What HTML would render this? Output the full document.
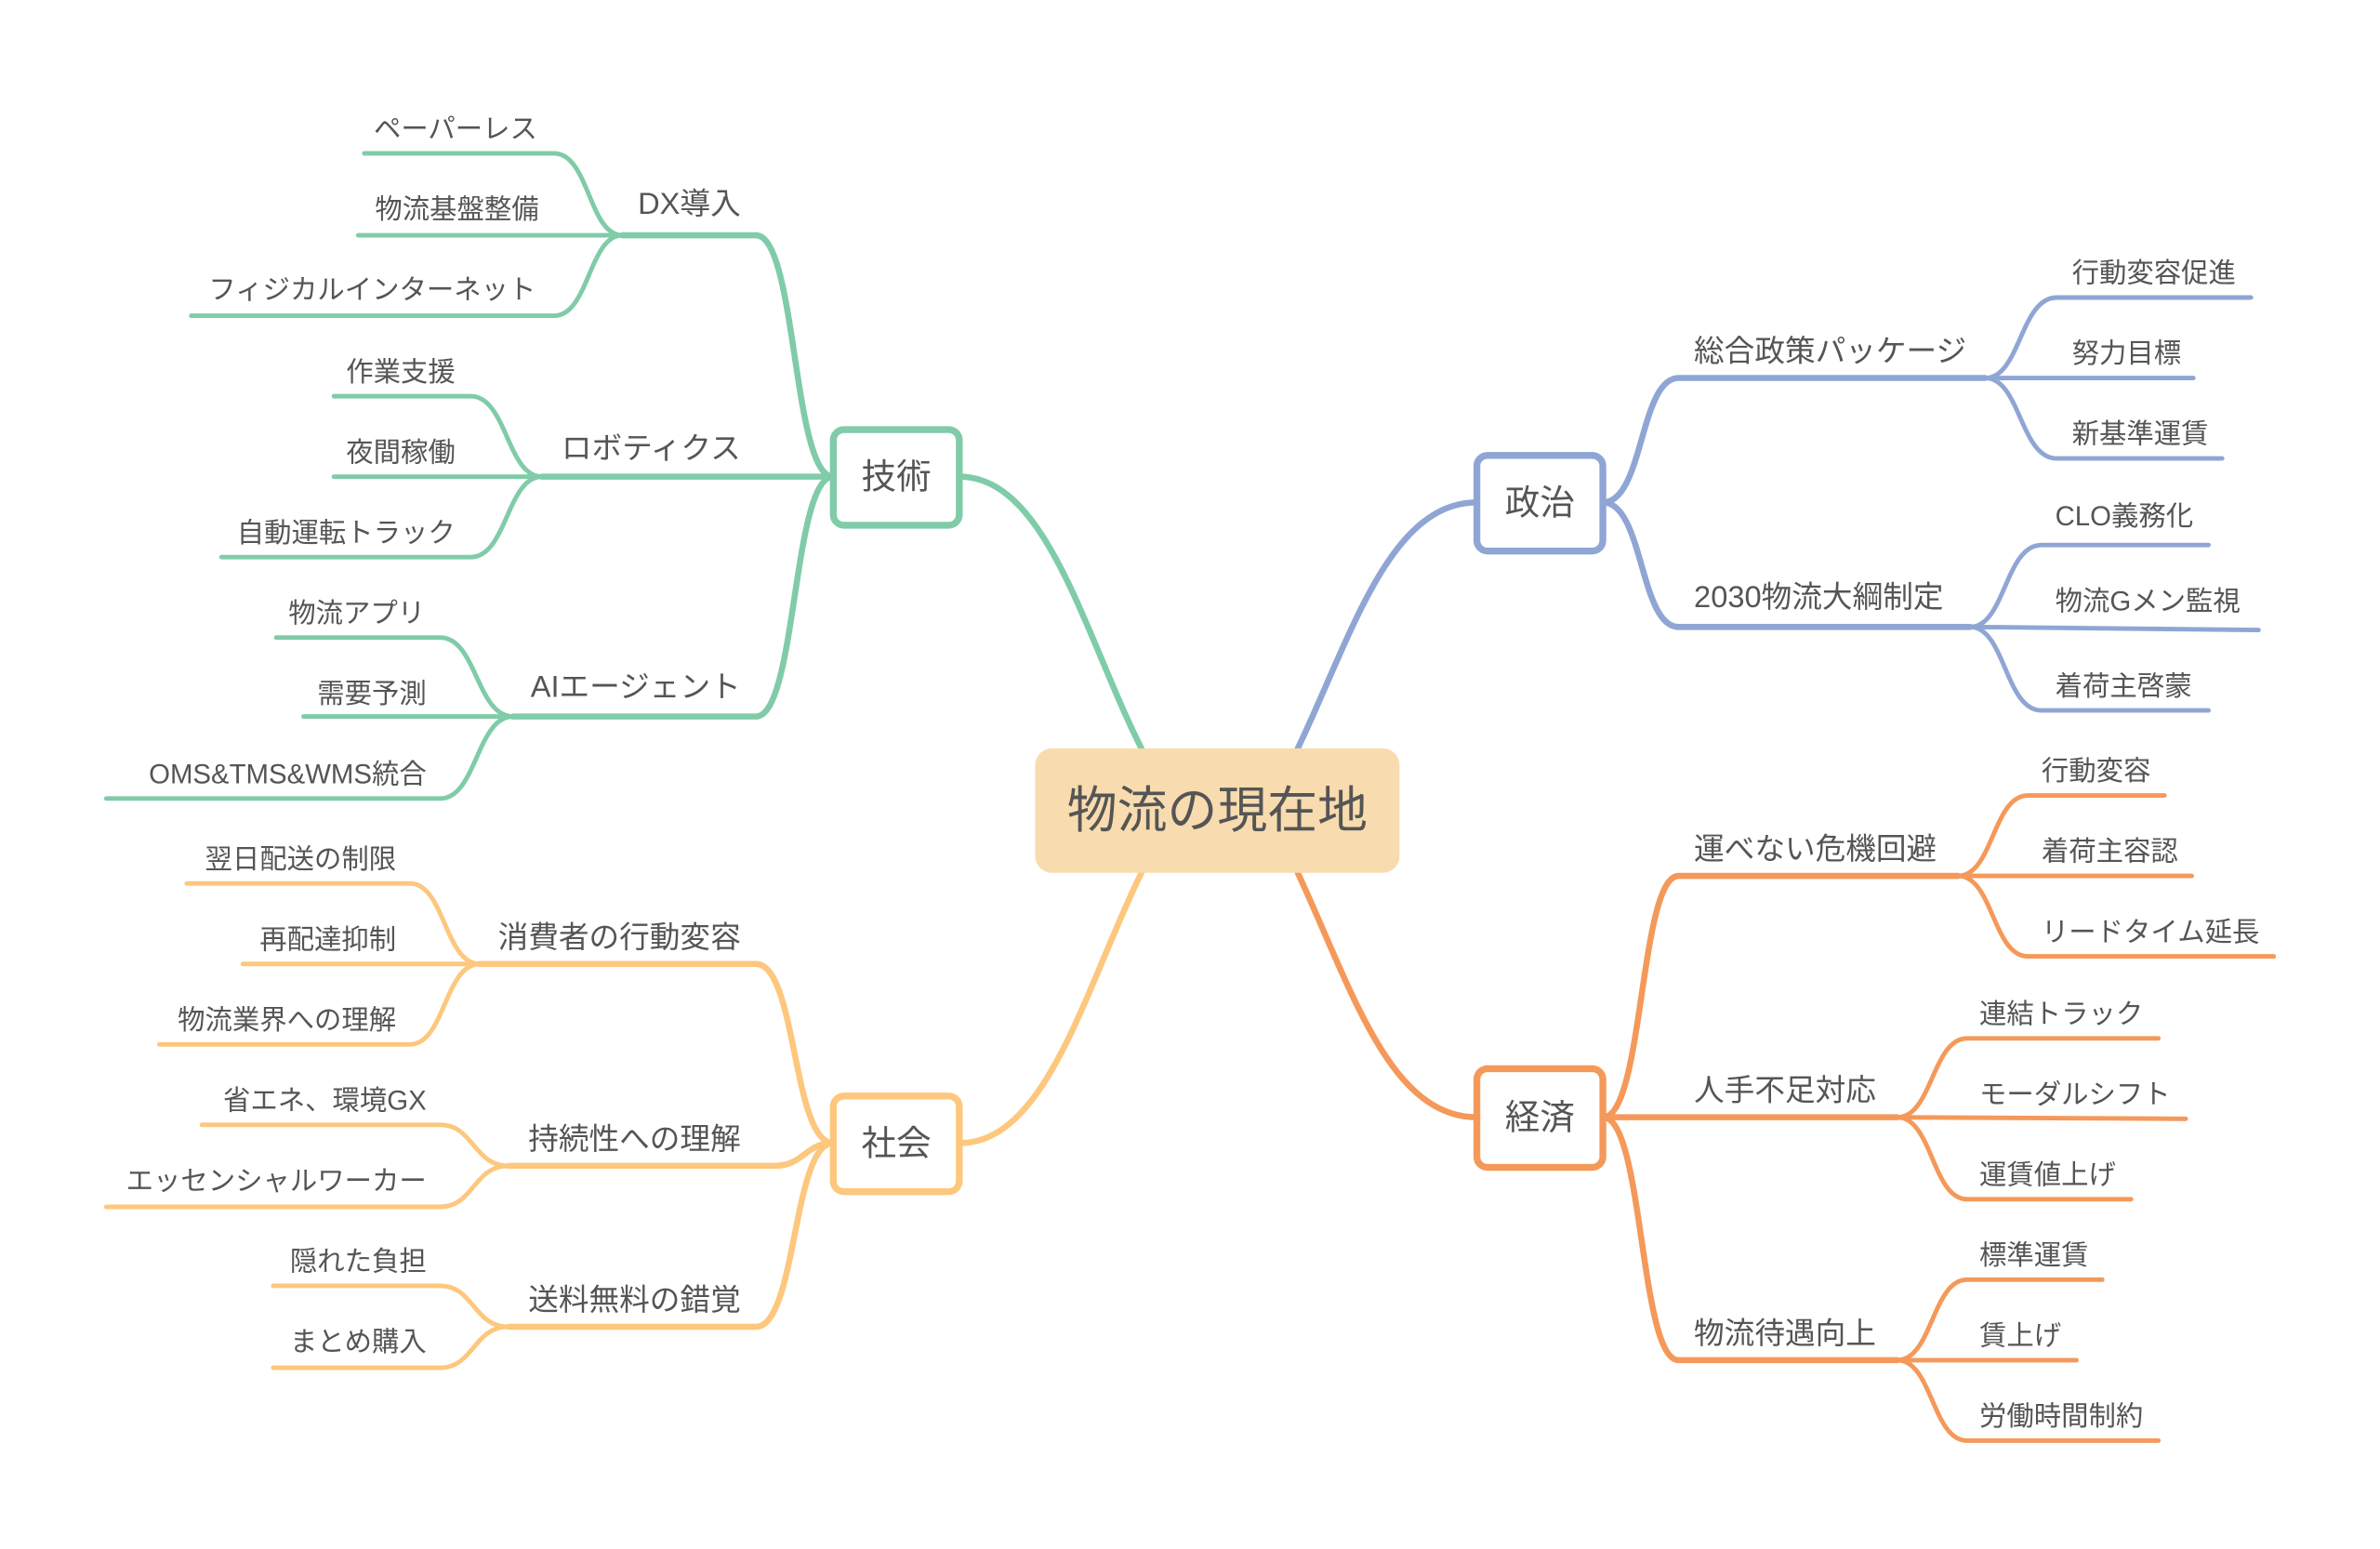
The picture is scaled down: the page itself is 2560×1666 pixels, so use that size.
<!DOCTYPE html>
<html><head><meta charset="utf-8"><style>
html,body{margin:0;padding:0;background:#fff;}
svg{display:block;}
text{font-family:"Liberation Sans","Noto Sans CJK JP",sans-serif;fill:#555;}
.lf{font-size:18px;}
.br{font-size:20px;}
.g{stroke:#80CBA8;}.b{stroke:#8FA6D4;}.o{stroke:#F4995A;}.y{stroke:#FDC77E;}
path{fill:none;stroke-width:3;stroke-linecap:round;stroke-linejoin:round;}
.m{stroke-width:4;}
</style></head><body>
<svg width="2560" height="1666" viewBox="0 0 1568 1020.4" preserveAspectRatio="none" xmlns="http://www.w3.org/2000/svg">
<!-- center connectors -->
<path class="g m" d="M752,493 C715,420 690,314 632,314"/>
<path class="b m" d="M855,493 C890,420 915,331 973,331"/>
<path class="o m" d="M855,575 C890,650 915,736 973,736"/>
<path class="y m" d="M752,575 C715,650 690,753 632,753"/>

<!-- TECH -->
<path class="g m" d="M410,155 L498,155 C525,155 522,314 549,314"/>
<path class="g m" d="M357,314 L549,314"/>
<path class="g m" d="M338,472 L498,472 C525,472 522,314 549,314"/>
<path class="g" d="M240,101 L365,101 C388,101 388,155 410,155"/>
<path class="g" d="M236,155 L410,155"/>
<path class="g" d="M126,208 L365,208 C388,208 388,155 410,155"/>
<path class="g" d="M220,261 L310,261 C334,261 334,314 357,314"/>
<path class="g" d="M220,314 L357,314"/>
<path class="g" d="M146,367 L310,367 C334,367 334,314 357,314"/>
<path class="g" d="M182,420 L290,420 C314,420 314,472 338,472"/>
<path class="g" d="M200,472 L338,472"/>
<path class="g" d="M70,526 L290,526 C314,526 314,472 338,472"/>
<text class="br" x="488" y="141" text-anchor="end">DX導入</text>
<text class="br" x="488" y="302" text-anchor="end">ロボティクス</text>
<text class="br" x="488" y="459" text-anchor="end">AIエージェント</text>
<text class="lf" x="354" y="91" text-anchor="end">ペーパーレス</text>
<text class="lf" x="355" y="144" text-anchor="end">物流基盤整備</text>
<text class="lf" x="353" y="197" text-anchor="end">フィジカルインターネット</text>
<text class="lf" x="300" y="251" text-anchor="end">作業支援</text>
<text class="lf" x="300" y="304" text-anchor="end">夜間稼働</text>
<text class="lf" x="300" y="357" text-anchor="end">自動運転トラック</text>
<text class="lf" x="280" y="410" text-anchor="end">物流アプリ</text>
<text class="lf" x="281" y="463" text-anchor="end">需要予測</text>
<text class="lf" x="281" y="516" text-anchor="end">OMS&amp;TMS&amp;WMS統合</text>

<!-- SOCIETY -->
<path class="y m" d="M316,635 L498,635 C525,635 522,753 549,753"/>
<path class="y m" d="M335,768 L510,768 C530,768 530,753 549,753"/>
<path class="y m" d="M335,874 L498,874 C525,874 522,753 549,753"/>
<path class="y" d="M123,582 L270,582 C293,582 293,635 316,635"/>
<path class="y" d="M160,635 L316,635"/>
<path class="y" d="M105,688 L270,688 C293,688 293,635 316,635"/>
<path class="y" d="M133,741 L290,741 C312,741 312,768 335,768"/>
<path class="y" d="M70,795 L290,795 C312,795 312,768 335,768"/>
<path class="y" d="M180,847 L290,847 C312,847 312,874 335,874"/>
<path class="y" d="M180,901 L290,901 C312,901 312,874 335,874"/>
<text class="br" x="488" y="624" text-anchor="end">消費者の行動変容</text>
<text class="br" x="488" y="757" text-anchor="end">持続性への理解</text>
<text class="br" x="488" y="863" text-anchor="end">送料無料の錯覚</text>
<text class="lf" x="261" y="572" text-anchor="end">翌日配送の制限</text>
<text class="lf" x="261" y="625" text-anchor="end">再配達抑制</text>
<text class="lf" x="261" y="678" text-anchor="end">物流業界への理解</text>
<text class="lf" x="281" y="731" text-anchor="end">省エネ、環境GX</text>
<text class="lf" x="281" y="784" text-anchor="end">エッセンシャルワーカー</text>
<text class="lf" x="281" y="837" text-anchor="end">隠れた負担</text>
<text class="lf" x="281" y="890" text-anchor="end">まとめ購入</text>

<!-- POLITICS -->
<path class="b m" d="M1056,331 C1083,331 1080,249 1106,249 L1308,249"/>
<path class="b m" d="M1056,331 C1083,331 1080,413 1106,413 L1298,413"/>
<path class="b" d="M1308,249 C1331,249 1331,196 1355,196 L1483,196"/>
<path class="b" d="M1308,249 L1445,249"/>
<path class="b" d="M1308,249 C1331,249 1331,302 1355,302 L1464,302"/>
<path class="b" d="M1298,413 C1321,413 1321,359 1345,359 L1455,359"/>
<path class="b" d="M1298,413 L1488,415"/>
<path class="b" d="M1298,413 C1321,413 1321,468 1345,468 L1455,468"/>
<text class="br" x="1116" y="238">総合政策パッケージ</text>
<text class="br" x="1116" y="400">2030物流大綱制定</text>
<text class="lf" x="1365" y="186">行動変容促進</text>
<text class="lf" x="1365" y="239">努力目標</text>
<text class="lf" x="1365" y="292">新基準運賃</text>
<text class="lf" x="1354" y="346">CLO義務化</text>
<text class="lf" x="1354" y="402">物流Gメン監視</text>
<text class="lf" x="1354" y="458">着荷主啓蒙</text>

<!-- ECONOMY -->
<path class="o m" d="M1056,736 C1083,736 1080,577 1106,577 L1290,577"/>
<path class="o m" d="M1056,736 L1250,736"/>
<path class="o m" d="M1056,736 C1083,736 1080,896 1106,896 L1250,896"/>
<path class="o" d="M1290,577 C1313,577 1313,524 1336,524 L1426,524"/>
<path class="o" d="M1290,577 L1444,577"/>
<path class="o" d="M1290,577 C1313,577 1313,630 1336,630 L1498,630"/>
<path class="o" d="M1250,736 C1273,736 1273,684 1296,684 L1422,684"/>
<path class="o" d="M1250,736 L1440,737"/>
<path class="o" d="M1250,736 C1273,736 1273,790 1296,790 L1404,790"/>
<path class="o" d="M1250,896 C1273,896 1273,843 1296,843 L1385,843"/>
<path class="o" d="M1250,896 L1368,896"/>
<path class="o" d="M1250,896 C1273,896 1273,949 1296,949 L1422,949"/>
<text class="br" x="1116" y="566">運べない危機回避</text>
<text class="br" x="1116" y="725">人手不足対応</text>
<text class="br" x="1116" y="885">物流待遇向上</text>
<text class="lf" x="1345" y="514">行動変容</text>
<text class="lf" x="1345" y="567">着荷主容認</text>
<text class="lf" x="1345" y="620">リードタイム延長</text>
<text class="lf" x="1304" y="674">連結トラック</text>
<text class="lf" x="1304" y="727">モーダルシフト</text>
<text class="lf" x="1304" y="780">運賃値上げ</text>
<text class="lf" x="1304" y="833">標準運賃</text>
<text class="lf" x="1304" y="886">賃上げ</text>
<text class="lf" x="1304" y="939">労働時間制約</text>

<!-- Level1 boxes -->
<rect x="549" y="283" width="83" height="63" rx="7" fill="#fff" stroke="#80CBA8" stroke-width="4.5"/>
<text x="590.5" y="322" font-size="23" text-anchor="middle">技術</text>
<rect x="973" y="300" width="83" height="63" rx="7" fill="#fff" stroke="#8FA6D4" stroke-width="4.5"/>
<text x="1014.5" y="339" font-size="23" text-anchor="middle">政治</text>
<rect x="973" y="704" width="83" height="65" rx="7" fill="#fff" stroke="#F4995A" stroke-width="4.5"/>
<text x="1014.5" y="744" font-size="23" text-anchor="middle">経済</text>
<rect x="549" y="722" width="83" height="63" rx="7" fill="#fff" stroke="#FDC77E" stroke-width="4.5"/>
<text x="590.5" y="761" font-size="23" text-anchor="middle">社会</text>

<!-- Center -->
<rect x="682" y="493" width="240" height="82" rx="11" fill="#F8DBAE"/>
<text x="802" y="545" font-size="33" text-anchor="middle">物流の現在地</text>
</svg>
</body></html>
